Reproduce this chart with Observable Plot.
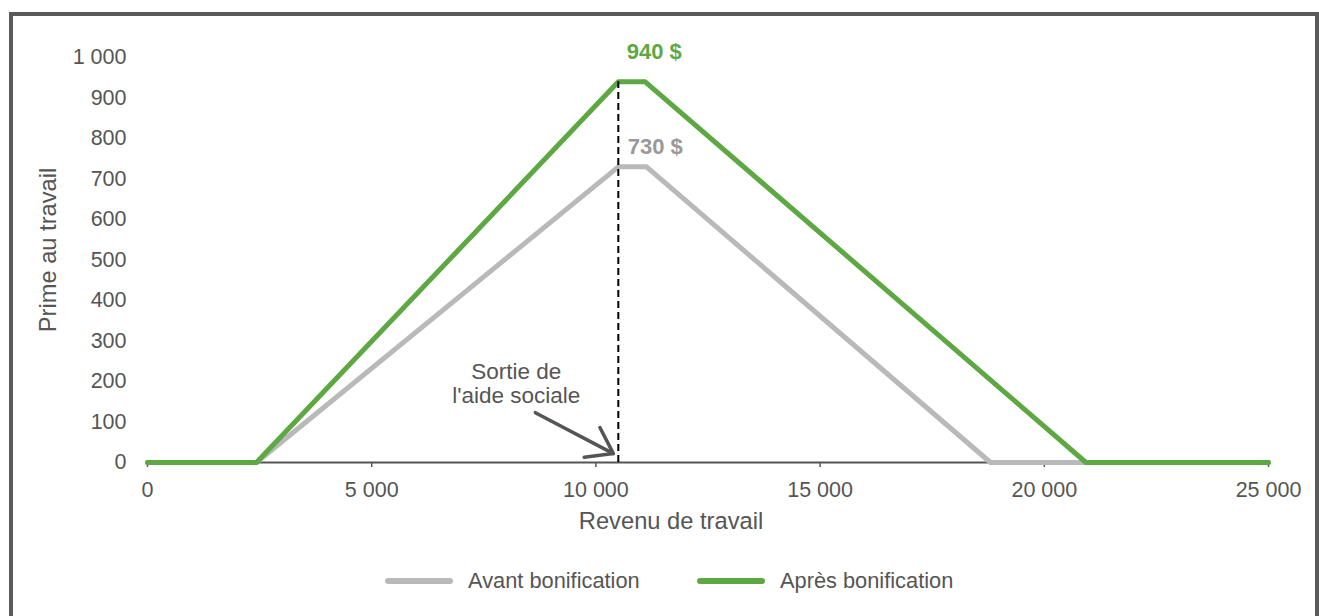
<!DOCTYPE html>
<html>
<head>
<meta charset="utf-8">
<script src="https://cdn.jsdelivr.net/npm/d3@7"></script>
<script src="https://cdn.jsdelivr.net/npm/@observablehq/plot@0.6"></script>
<style>
  html, body { margin: 0; padding: 0; background: #fff; width: 1319px; height: 616px; overflow: hidden; }
  body { position: relative; font-family: "Liberation Sans", Arial, sans-serif; color: #555; }
  #frame { position: absolute; left: 9px; top: 12px; width: 1302px; height: 640px;
           border: 4px solid #5a5a5a; border-bottom: none; box-sizing: content-box; }
  #chart { position: absolute; left: 0; top: 0; }
  #legend { position: absolute; top: 568px; left: 0; width: 1319px; height: 26px; }
  .item { position: absolute; top: 0; display: flex; align-items: center; height: 26px; font-size: 21.8px; color: #555; }
  .sw { width: 68px; height: 6px; border-radius: 3px; margin-right: 15px; }
</style>
</head>
<body>
<div id="frame"></div>
<div id="chart"></div>
<div id="legend"></div>
<script>
// ---- data ----
const seriesNames = ["Avant bonification", "Après bonification"];
const seriesColors = ["#b9b9b9", "#5ea843"];
const avantX = [0, 2430, 10500, 11130, 18800, 25000];
const avantY = [0, 0, 730, 730, 0, 0];
const apresX = [0, 2430, 10500, 11100, 20930, 25000];
const apresY = [0, 0, 940, 940, 0, 0];
const xTicks = [0, 5000, 10000, 15000, 20000, 25000];
const yTicks = [0, 100, 200, 300, 400, 500, 600, 700, 800, 900, 1000];
const sortieX = 10500;
const peakLabels = ["940 $", "730 $"];
const peakValues = [940, 730];
const annotationText = "Sortie de\nl'aide sociale";
const arrowFrom = [8650, 123];
const arrowTo = [10390, 22];

const fr = d3.formatLocale({decimal: ",", thousands: " ", grouping: [3], currency: ["", " $"]});
const fmt = fr.format(",");

const rows = [
  ...avantX.map((x, i) => ({x, y: avantY[i], s: seriesNames[0]})),
  ...apresX.map((x, i) => ({x, y: apresY[i], s: seriesNames[1]}))
];

const chart = Plot.plot({
  width: 1319,
  height: 560,
  marginLeft: 147,
  marginRight: 51,
  marginTop: 57,
  marginBottom: 98,
  style: {fontFamily: "Liberation Sans, Arial, sans-serif", fontSize: "21.5px", color: "#555", background: "transparent", overflow: "visible"},
  x: {domain: [0, 25000]},
  y: {domain: [0, 1000]},
  color: {domain: seriesNames, range: seriesColors},
  marks: [
    Plot.axisX({ticks: xTicks, tickFormat: fmt, tickSize: 5, tickPadding: 14, stroke: "#555", strokeWidth: 1.5, fontSize: 21.5, label: null}),
    Plot.axisY({ticks: yTicks, tickFormat: fmt, tickSize: 0, tickPadding: 21, fontSize: 21.5, label: null}),
    Plot.ruleY([0], {stroke: "#555", strokeWidth: 2}),
    Plot.line(rows.filter(d => d.s === seriesNames[0]), {x: "x", y: "y", stroke: seriesColors[0], strokeWidth: 5, strokeLinejoin: "round", strokeLinecap: "round"}),
    Plot.line(rows.filter(d => d.s === seriesNames[1]), {x: "x", y: "y", stroke: seriesColors[1], strokeWidth: 5, strokeLinejoin: "round", strokeLinecap: "round"}),
    Plot.ruleX([sortieX], {y1: 0, y2: peakValues[0], stroke: "#000", strokeWidth: 2, strokeDasharray: "7,4"}),
    Plot.text([peakLabels[0]], {x: sortieX, y: peakValues[0], dx: 36, dy: -30, fill: seriesColors[1], fontWeight: "bold", fontSize: 22}),
    Plot.text([peakLabels[1]], {x: sortieX, y: peakValues[1], dx: 37, dy: -20, fill: "#999", fontWeight: "bold", fontSize: 22}),
    Plot.text([annotationText], {x: sortieX, y: 0, dx: -102, dy: -79, fill: "#555", fontSize: 22.5, lineHeight: 1.05, textAnchor: "middle"}),
    Plot.arrow([0], {x1: () => arrowFrom[0], y1: () => arrowFrom[1], x2: () => arrowTo[0], y2: () => arrowTo[1], stroke: "#555", strokeWidth: 3.5, headLength: 18, headAngle: 70}),
    Plot.text(["Revenu de travail"], {frameAnchor: "bottom", dx: -37, dy: 66, fill: "#555", fontSize: 23.7}),
    Plot.text(["Prime au travail"], {frameAnchor: "left", dx: -99, dy: -10, rotate: -90, textAnchor: "middle", fill: "#555", fontSize: 23.7})
  ]
});
document.getElementById("chart").appendChild(chart);

const legend = document.getElementById("legend");
const lefts = [385, 697];
seriesNames.forEach((n, i) => {
  const it = document.createElement("div");
  it.className = "item";
  it.style.left = lefts[i] + "px";
  it.innerHTML = `<div class="sw" style="background:${seriesColors[i]}"></div><span>${n}</span>`;
  legend.appendChild(it);
});
</script>
</body>
</html>
